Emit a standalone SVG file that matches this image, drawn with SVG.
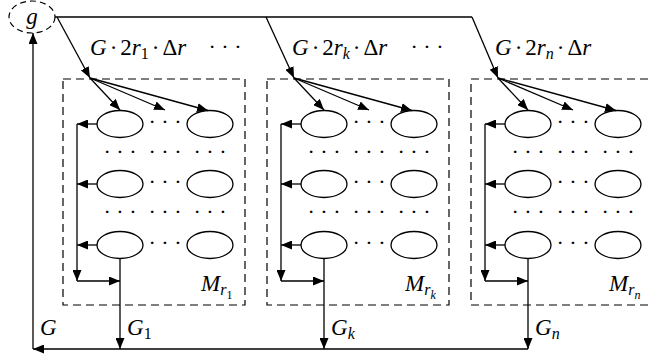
<svg xmlns="http://www.w3.org/2000/svg" width="649" height="358" viewBox="0 0 649 358">
<style>
.ln{stroke:#000;stroke-width:1.3;fill:none}
.ar{marker-end:url(#ah)}
.box{fill:none;stroke:#000;stroke-width:1.2;stroke-dasharray:8 5}
.el{fill:#fff;stroke:#000;stroke-width:1.3}
.t{font-family:"Liberation Serif","Times New Roman",serif;font-size:23px;fill:#000}
.i{font-style:italic}
.dots{font-family:"Liberation Serif","Times New Roman",serif;font-size:22px;fill:#000;text-anchor:middle}
</style>
<defs>
<marker id="ah" markerUnits="userSpaceOnUse" markerWidth="11" markerHeight="9" refX="11" refY="4.5" orient="auto">
<path d="M0,0 L11,4.5 L0,9 z" fill="#000"/>
</marker>
</defs>

<g id="node-g">
<ellipse cx="32" cy="17" rx="23" ry="16" fill="#fff" stroke="#000" stroke-width="1.2" stroke-dasharray="6 4"/>
<text class="t i" x="32" y="24" text-anchor="middle">g</text>
</g>

<g id="labels-top">
<text class="t" x="90" y="55"><tspan class="i">G</tspan><tspan dx="3">·</tspan><tspan dx="3">2</tspan><tspan class="i">r</tspan><tspan font-size="16" dy="4">1</tspan><tspan dy="-4" dx="3">·</tspan><tspan dx="3">Δ</tspan><tspan class="i">r</tspan></text>
<text class="dots" x="225" y="54">· · ·</text>
<text class="t" x="292" y="55"><tspan class="i">G</tspan><tspan dx="3">·</tspan><tspan dx="3">2</tspan><tspan class="i">r</tspan><tspan class="i" font-size="16" dy="4">k</tspan><tspan dy="-4" dx="3">·</tspan><tspan dx="3">Δ</tspan><tspan class="i">r</tspan></text>
<text class="dots" x="427" y="54">· · ·</text>
<text class="t" x="495" y="55"><tspan class="i">G</tspan><tspan dx="3">·</tspan><tspan dx="3">2</tspan><tspan class="i">r</tspan><tspan class="i" font-size="16" dy="4">n</tspan><tspan dy="-4" dx="3">·</tspan><tspan dx="3">Δ</tspan><tspan class="i">r</tspan></text>
</g>

<g id="box-1">
<rect class="box" x="63" y="79" width="182" height="226"/>
<ellipse class="el" cx="120" cy="124" rx="23" ry="13.5"/>
<ellipse class="el" cx="210" cy="124" rx="23" ry="13.5"/>
<ellipse class="el" cx="120" cy="184" rx="23" ry="13.5"/>
<ellipse class="el" cx="210" cy="184" rx="23" ry="13.5"/>
<ellipse class="el" cx="120" cy="245" rx="23" ry="13.5"/>
<ellipse class="el" cx="210" cy="245" rx="23" ry="13.5"/>
<text class="dots" x="165" y="129">· · ·</text>
<text class="dots" x="165" y="189">· · ·</text>
<text class="dots" x="165" y="250">· · ·</text>
<text class="dots" x="120" y="159">· · ·</text>
<text class="dots" x="165" y="159">· · ·</text>
<text class="dots" x="210" y="159">· · ·</text>
<text class="dots" x="120" y="219">· · ·</text>
<text class="dots" x="165" y="219">· · ·</text>
<text class="dots" x="210" y="219">· · ·</text>
<text class="t" x="201" y="291"><tspan class="i">M</tspan><tspan class="i" font-size="16" dy="4">r</tspan><tspan font-size="12" dy="4">1</tspan></text>
</g>

<g id="box-k">
<rect class="box" x="267" y="79" width="182" height="226"/>
<ellipse class="el" cx="324" cy="124" rx="23" ry="13.5"/>
<ellipse class="el" cx="414" cy="124" rx="23" ry="13.5"/>
<ellipse class="el" cx="324" cy="184" rx="23" ry="13.5"/>
<ellipse class="el" cx="414" cy="184" rx="23" ry="13.5"/>
<ellipse class="el" cx="324" cy="245" rx="23" ry="13.5"/>
<ellipse class="el" cx="414" cy="245" rx="23" ry="13.5"/>
<text class="dots" x="369" y="129">· · ·</text>
<text class="dots" x="369" y="189">· · ·</text>
<text class="dots" x="369" y="250">· · ·</text>
<text class="dots" x="324" y="159">· · ·</text>
<text class="dots" x="369" y="159">· · ·</text>
<text class="dots" x="414" y="159">· · ·</text>
<text class="dots" x="324" y="219">· · ·</text>
<text class="dots" x="369" y="219">· · ·</text>
<text class="dots" x="414" y="219">· · ·</text>
<text class="t" x="405" y="291"><tspan class="i">M</tspan><tspan class="i" font-size="16" dy="4">r</tspan><tspan class="i" font-size="12" dy="4">k</tspan></text>
</g>

<g id="box-n">
<rect class="box" x="471" y="79" width="190" height="226"/>
<ellipse class="el" cx="528" cy="124" rx="23" ry="13.5"/>
<ellipse class="el" cx="618" cy="124" rx="23" ry="13.5"/>
<ellipse class="el" cx="528" cy="184" rx="23" ry="13.5"/>
<ellipse class="el" cx="618" cy="184" rx="23" ry="13.5"/>
<ellipse class="el" cx="528" cy="245" rx="23" ry="13.5"/>
<ellipse class="el" cx="618" cy="245" rx="23" ry="13.5"/>
<text class="dots" x="573" y="129">· · ·</text>
<text class="dots" x="573" y="189">· · ·</text>
<text class="dots" x="573" y="250">· · ·</text>
<text class="dots" x="528" y="159">· · ·</text>
<text class="dots" x="573" y="159">· · ·</text>
<text class="dots" x="618" y="159">· · ·</text>
<text class="dots" x="528" y="219">· · ·</text>
<text class="dots" x="573" y="219">· · ·</text>
<text class="dots" x="618" y="219">· · ·</text>
<text class="t" x="609" y="291"><tspan class="i">M</tspan><tspan class="i" font-size="16" dy="4">r</tspan><tspan class="i" font-size="12" dy="4">n</tspan></text>
</g>

<g id="labels-bottom">
<text class="t i" x="40" y="335">G</text>
<text class="t" x="127" y="335"><tspan class="i">G</tspan><tspan font-size="16" dy="4">1</tspan></text>
<text class="t" x="331" y="335"><tspan class="i">G</tspan><tspan class="i" font-size="16" dy="4">k</tspan></text>
<text class="t" x="535" y="335"><tspan class="i">G</tspan><tspan class="i" font-size="16" dy="4">n</tspan></text>
</g>

<g id="connectors">
<polyline class="ln" points="55,17 472,17"/>
<line class="ln ar" x1="57" y1="17" x2="90" y2="78"/>
<line class="ln ar" x1="266" y1="17" x2="294" y2="78"/>
<line class="ln ar" x1="472" y1="17" x2="498" y2="78"/>
<line class="ln ar" x1="90" y1="78" x2="120" y2="110"/>
<line class="ln ar" x1="90" y1="78" x2="165" y2="110"/>
<line class="ln ar" x1="90" y1="78" x2="208" y2="110.5"/>
<line class="ln ar" x1="294" y1="78" x2="324" y2="110"/>
<line class="ln ar" x1="294" y1="78" x2="369" y2="110"/>
<line class="ln ar" x1="294" y1="78" x2="412" y2="110.5"/>
<line class="ln ar" x1="498" y1="78" x2="528" y2="110"/>
<line class="ln ar" x1="498" y1="78" x2="573" y2="110"/>
<line class="ln ar" x1="498" y1="78" x2="616" y2="110.5"/>
<line class="ln ar" x1="97" y1="124" x2="77" y2="124"/>
<line class="ln ar" x1="97" y1="184" x2="77" y2="184"/>
<line class="ln ar" x1="97" y1="245" x2="77" y2="245"/>
<line class="ln ar" x1="77" y1="124" x2="77" y2="281"/>
<line class="ln ar" x1="77" y1="281" x2="120" y2="281"/>
<line class="ln ar" x1="120" y1="258.5" x2="120" y2="349"/>
<line class="ln ar" x1="301" y1="124" x2="281" y2="124"/>
<line class="ln ar" x1="301" y1="184" x2="281" y2="184"/>
<line class="ln ar" x1="301" y1="245" x2="281" y2="245"/>
<line class="ln ar" x1="281" y1="124" x2="281" y2="281"/>
<line class="ln ar" x1="281" y1="281" x2="324" y2="281"/>
<line class="ln ar" x1="324" y1="258.5" x2="324" y2="349"/>
<line class="ln ar" x1="505" y1="124" x2="485" y2="124"/>
<line class="ln ar" x1="505" y1="184" x2="485" y2="184"/>
<line class="ln ar" x1="505" y1="245" x2="485" y2="245"/>
<line class="ln ar" x1="485" y1="124" x2="485" y2="281"/>
<line class="ln ar" x1="485" y1="281" x2="528" y2="281"/>
<line class="ln ar" x1="528" y1="258.5" x2="528" y2="349"/>
<line class="ln ar" x1="528" y1="349" x2="33" y2="349"/>
<line class="ln ar" x1="33" y1="349" x2="33" y2="33"/>
</g>
</svg>
